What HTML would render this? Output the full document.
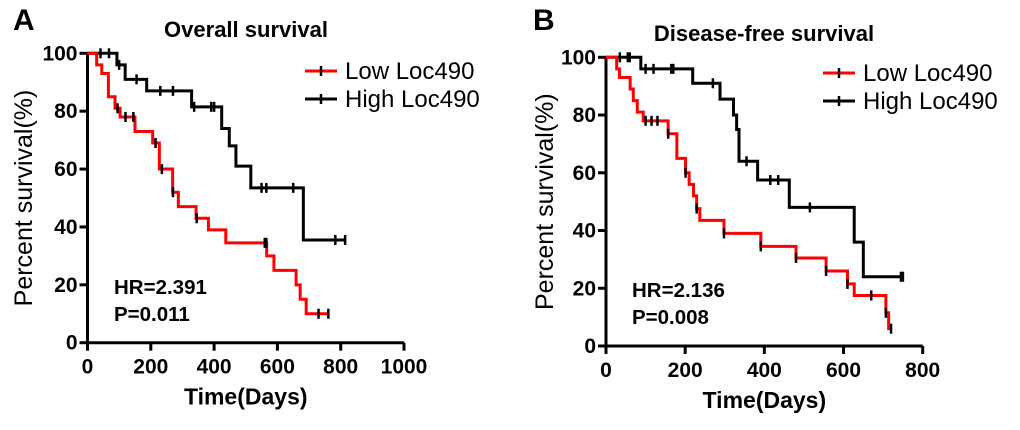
<!DOCTYPE html>
<html><head><meta charset="utf-8"><style>
body{margin:0;background:#fff}
svg text{font-family:"Liberation Sans",Arial,sans-serif}
</style></head><body>
<svg id="c" width="1020" height="425" viewBox="0 0 1020 425" xmlns="http://www.w3.org/2000/svg"></svg>
<script>
// Panel A - Overall survival
const aLowT=[0,29,45,66,87,103,150,206,227,269,287,343,382,437,566,589,659,672,691,761];
const aLowS=[100,96,93,85,81,78,73,69,60,52,47,43,39,34.5,30,25,20,15,10,10];
const aLowC=[95,120,145,215,235,270,345,560,565,730,761];
const aHighT=[0,93,119,187,329,424,448,469,516,682,814];
const aHighS=[100,96,91,87,81.5,74,68,61,53.5,35.5,35.5];
const aHighC=[41,68,100,155,230,270,337,391,400,550,565,650,783,814];
// Panel B - Disease-free survival
const bLowT=[0,27,34,61,69,79,94,157,179,201,210,221,229,237,298,391,480,556,610,627,707,714,722];
const bLowS=[100,96,93,89,85,81,78,73.5,65,60,56,52,47.6,43.5,39,34.5,30.5,26,21.5,17.5,11.5,6,6];
const bLowC=[100,115,130,157,201,229,298,391,480,556,610,670,707,720];
const bHighT=[0,88,219,288,322,330,336,383,463,627,650,750];
const bHighS=[100,96,91,85.5,80,75,64,57.5,48,36,24,24];
const bHighC=[35,55,60,100,120,165,170,270,355,415,435,515,745,750];
const xTicksA=[0,200,400,600,800,1000];
const xTicksB=[0,200,400,600,800];
const yTicks=[0,20,40,60,80,100];

const svg=document.getElementById('c');
const NS='http://www.w3.org/2000/svg';
function mk(tag,attrs,parent){const e=document.createElementNS(NS,tag);for(const k in attrs)e.setAttribute(k,attrs[k]);(parent||svg).appendChild(e);return e;}

function panel(o){
  const g=mk('g',{});
  
  
  const X=d=>o.x0+(d/o.xmax)*(o.x1-o.x0);
  const Y=p=>o.y0-(p/100)*(o.y0-o.y1);
  const ax=mk('path',{d:`M${X(0)},${Y(100)}V${Y(0)}H${X(o.xmax)}`,stroke:'#000','stroke-width':3,fill:'none'},g);
  
  
  o.xt.forEach(t=>{
    mk('line',{x1:X(t),x2:X(t),y1:Y(0),y2:Y(0)+8,stroke:'#000','stroke-width':3},g);
    const tx=mk('text',{x:X(t),y:Y(0)+31,'text-anchor':'middle','font-size':21,'font-weight':'bold'},g);
    tx.textContent=t;
    
    
  });
  yTicks.forEach(t=>{
    mk('line',{x1:X(0)-8,x2:X(0),y1:Y(t),y2:Y(t),stroke:'#000','stroke-width':3},g);
    const tx=mk('text',{x:X(0)-10,y:Y(t)+7,'text-anchor':'end','font-size':21,'font-weight':'bold'},g);
    tx.textContent=t;
    
    
  });
  function curve(T,S,C,col,name){
    let d=`M${X(T[0])},${Y(S[0])}`;
    for(let i=1;i<T.length;i++){d+=`H${X(T[i])}V${Y(S[i])}`;}
    const p=mk('path',{d:d,stroke:col,'stroke-width':3,fill:'none'},g);
    
    
    C.forEach(c=>{
      let s=S[0];for(let i=0;i<T.length;i++){if(T[i]<=c)s=S[i];}
      const m=mk('line',{x1:X(c),x2:X(c),y1:Y(s)-5,y2:Y(s)+5,stroke:'#000','stroke-width':2.5},g);
      
      
    });
  }
  curve(o.hT,o.hS,o.hC,'#000','high-loc490-curve');
  curve(o.lT,o.lS,o.lC,'#ff0000','low-loc490-curve');
  [['Low Loc490','#ff0000',o.ly],['High Loc490','#000',o.ly+28]].forEach(([lab,col,y],i)=>{
    mk('line',{x1:o.lx,x2:o.lx+32,y1:y,y2:y,stroke:col,'stroke-width':3},g);
    mk('line',{x1:o.lx+16,x2:o.lx+16,y1:y-5,y2:y+5,stroke:'#000','stroke-width':2.5},g);
    const t=mk('text',{x:o.lx+40,y:y+8,'font-size':24},g);t.textContent=lab;
    
    
  });
  const t1=mk('text',{x:o.hx,y:o.hy,'font-size':20.5,'font-weight':'bold'},g);t1.textContent=o.hr;
  
  
  const t2=mk('text',{x:o.hx,y:o.hy+27,'font-size':20.5,'font-weight':'bold'},g);t2.textContent=o.p;
  
  
  const tt=mk('text',{x:o.tx,y:o.ty,'text-anchor':'middle','font-size':22,'font-weight':'bold'},g);tt.textContent=o.title;
  
  
  const xl=mk('text',{x:(X(0)+X(o.xmax))/2,y:Y(0)+62,'text-anchor':'middle','font-size':23,'font-weight':'bold'},g);xl.textContent='Time(Days)';
  
  
  const yl=mk('text',{x:0,y:0,'text-anchor':'middle','font-size':25,transform:`translate(${o.ylx},${(Y(0)+Y(100))/2}) rotate(-90)`},g);yl.textContent='Percent survival(%)';
  
  
  const L=mk('text',{x:o.Lx,y:30,'font-size':30,'font-weight':'bold'},g);L.textContent=o.letter;
  
  
}
panel({name:'panel-a-overall-survival',x0:87.5,x1:404,xmax:1000,y0:342.7,y1:53.3,xt:xTicksA,
  lT:aLowT,lS:aLowS,lC:aLowC,hT:aHighT,hS:aHighS,hC:aHighC,lx:305,ly:71,hx:114,hy:294,hr:'HR=2.391',p:'P=0.011',
  title:'Overall survival',tx:246,ty:37,ylx:32,Lx:13,letter:'A'});
panel({name:'panel-b-disease-free-survival',x0:606,x1:922.7,xmax:800,y0:346,y1:57.3,xt:xTicksB,
  lT:bLowT,lS:bLowS,lC:bLowC,hT:bHighT,hS:bHighS,hC:bHighC,lx:823,ly:73,hx:632,hy:297,hr:'HR=2.136',p:'P=0.008',
  title:'Disease-free survival',tx:764,ty:41,ylx:553,Lx:533,letter:'B'});
</script>
</body></html>
